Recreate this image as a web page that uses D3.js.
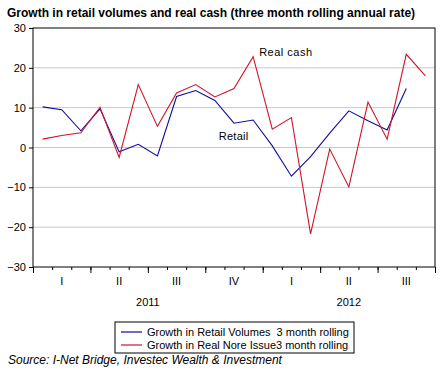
<!DOCTYPE html>
<html>
<head>
<meta charset="utf-8">
<script src="https://cdn.jsdelivr.net/npm/d3@7"></script>
<style>
  body { margin: 0; background: #fff; }
  svg { font-family: "Liberation Sans", Arial, sans-serif; }
</style>
</head>
<body>
<div id="chart"></div>
<script>
// monthly data, Jan 2011 .. Sep 2012
var months = ["Jan11","Feb11","Mar11","Apr11","May11","Jun11","Jul11","Aug11","Sep11","Oct11","Nov11","Dec11",
              "Jan12","Feb12","Mar12","Apr12","May12","Jun12","Jul12","Aug12","Sep12"];
var retail = [10.2, 9.5, 4.2, 9.7, -1.1, 0.8, -2.1, 12.8, 14.3, 11.8, 6.1, 6.9,
              0.4, -7.2, -2.3, 3.6, 9.2, 6.7, 4.4, 14.8, null];
var realCash = [2.1, 3.0, 3.7, 10.1, -2.5, 15.8, 5.3, 13.7, 15.8, 12.7, 14.8, 22.8,
                4.6, 7.5, -21.7, -0.4, -9.9, 11.4, 2.1, 23.4, 18.0];
var yTicks = [-30, -20, -10, 0, 10, 20, 30];
var quarterLabels = ["I", "II", "III", "IV", "I", "II", "III"];
var years = [{ label: "2011", from: 0, to: 12 }, { label: "2012", from: 12, to: 21 }];
var seriesNames = ["Growth in Retail Volumes  3 month rolling", "Growth in Real Nore Issue3 month rolling"];

var svgWidth = 448, svgHeight = 373;
var margin = { top: 28, right: 13, bottom: 106, left: 33 };
var width = svgWidth - margin.left - margin.right;
var height = svgHeight - margin.top - margin.bottom;
var blue = "#0c0ca6", red = "#d0142c";

var svg = d3.select("#chart").append("svg")
  .attr("width", svgWidth)
  .attr("height", svgHeight);

svg.append("text")
  .attr("x", 7)
  .attr("y", 17)
  .style("font-size", "12px")
  .style("font-weight", "bold")
  .text("Growth in retail volumes and real cash (three month rolling annual rate)");

var g = svg.append("g")
  .attr("transform", "translate(" + margin.left + "," + margin.top + ")");

var x = d3.scaleLinear().domain([0, months.length]).range([0, width]);
var y = d3.scaleLinear().domain([-30, 30]).range([height, 0]);

// gridlines
g.selectAll(".grid")
  .data(yTicks.filter(function(d) { return d > -30 && d < 30; }))
  .enter().append("line")
  .attr("x1", 0).attr("x2", width)
  .attr("y1", function(d) { return y(d); })
  .attr("y2", function(d) { return y(d); })
  .attr("stroke", "#c8c8c8");

// y axis
var yAxis = g.append("g")
  .call(d3.axisLeft(y).tickValues(yTicks).tickSize(4).tickPadding(3));
yAxis.select(".domain").remove();
yAxis.selectAll("text").style("font-size", "11px").attr("fill", "#000");

// x axis: month ticks, longer quarter ticks
var xAxis = g.append("g")
  .attr("transform", "translate(0," + height + ")")
  .call(d3.axisBottom(x).tickValues(d3.range(0, months.length + 1)).tickSize(3).tickFormat(""));
xAxis.select(".domain").remove();
var qAxis = g.append("g")
  .attr("transform", "translate(0," + height + ")")
  .call(d3.axisBottom(x).tickValues(d3.range(0, months.length + 1, 3)).tickSize(6).tickFormat(""));
qAxis.select(".domain").remove();

g.selectAll(".qlabel")
  .data(quarterLabels)
  .enter().append("text")
  .attr("x", function(d, i) { return x(i * 3 + 1.5); })
  .attr("y", height + 18)
  .attr("text-anchor", "middle")
  .style("font-size", "11px")
  .text(function(d) { return d; });

g.selectAll(".ylabel")
  .data(years)
  .enter().append("text")
  .attr("x", function(d) { return x((d.from + d.to) / 2); })
  .attr("y", height + 39)
  .attr("text-anchor", "middle")
  .style("font-size", "11px")
  .text(function(d) { return d.label; });

// frame
g.append("rect")
  .attr("width", width).attr("height", height)
  .attr("fill", "none").attr("stroke", "#000");

var line = d3.line()
  .defined(function(d) { return d != null; })
  .x(function(d, i) { return x(i + 0.5); })
  .y(function(d) { return y(d); });

g.append("path").datum(retail)
  .attr("d", line).attr("fill", "none").attr("stroke", blue).attr("stroke-width", 1.1);
g.append("path").datum(realCash)
  .attr("d", line).attr("fill", "none").attr("stroke", red).attr("stroke-width", 1.1);

g.append("text")
  .attr("x", x(11.5) + 6).attr("y", y(22.5) - 2)
  .style("font-size", "11px")
  .style("letter-spacing", "0.5px")
  .text("Real cash");
g.append("text")
  .attr("x", x(9.7)).attr("y", y(1.8))
  .style("font-size", "11px")
  .style("letter-spacing", "0.3px")
  .text("Retail");

// legend
var legend = svg.append("g").attr("transform", "translate(115,322)");
legend.append("rect")
  .attr("width", 239).attr("height", 31)
  .attr("fill", "#fff").attr("stroke", "#000");
legend.selectAll(".item")
  .data(seriesNames)
  .enter().append("g")
  .each(function(d, i) {
    var row = d3.select(this).attr("transform", "translate(0," + (10 + i * 13) + ")");
    row.append("line").attr("x1", 6).attr("x2", 27)
      .attr("stroke", i === 0 ? blue : red).attr("stroke-width", 1.2);
    row.append("text").attr("x", 32).attr("y", 4)
      .style("font-size", "11px")
      .style("white-space", "pre")
      .text(d);
  });

svg.append("text")
  .attr("x", 8).attr("y", 364)
  .style("font-size", "12px")
  .style("font-style", "italic")
  .text("Source: I-Net Bridge, Investec Wealth & Investment");
</script>
</body>
</html>
